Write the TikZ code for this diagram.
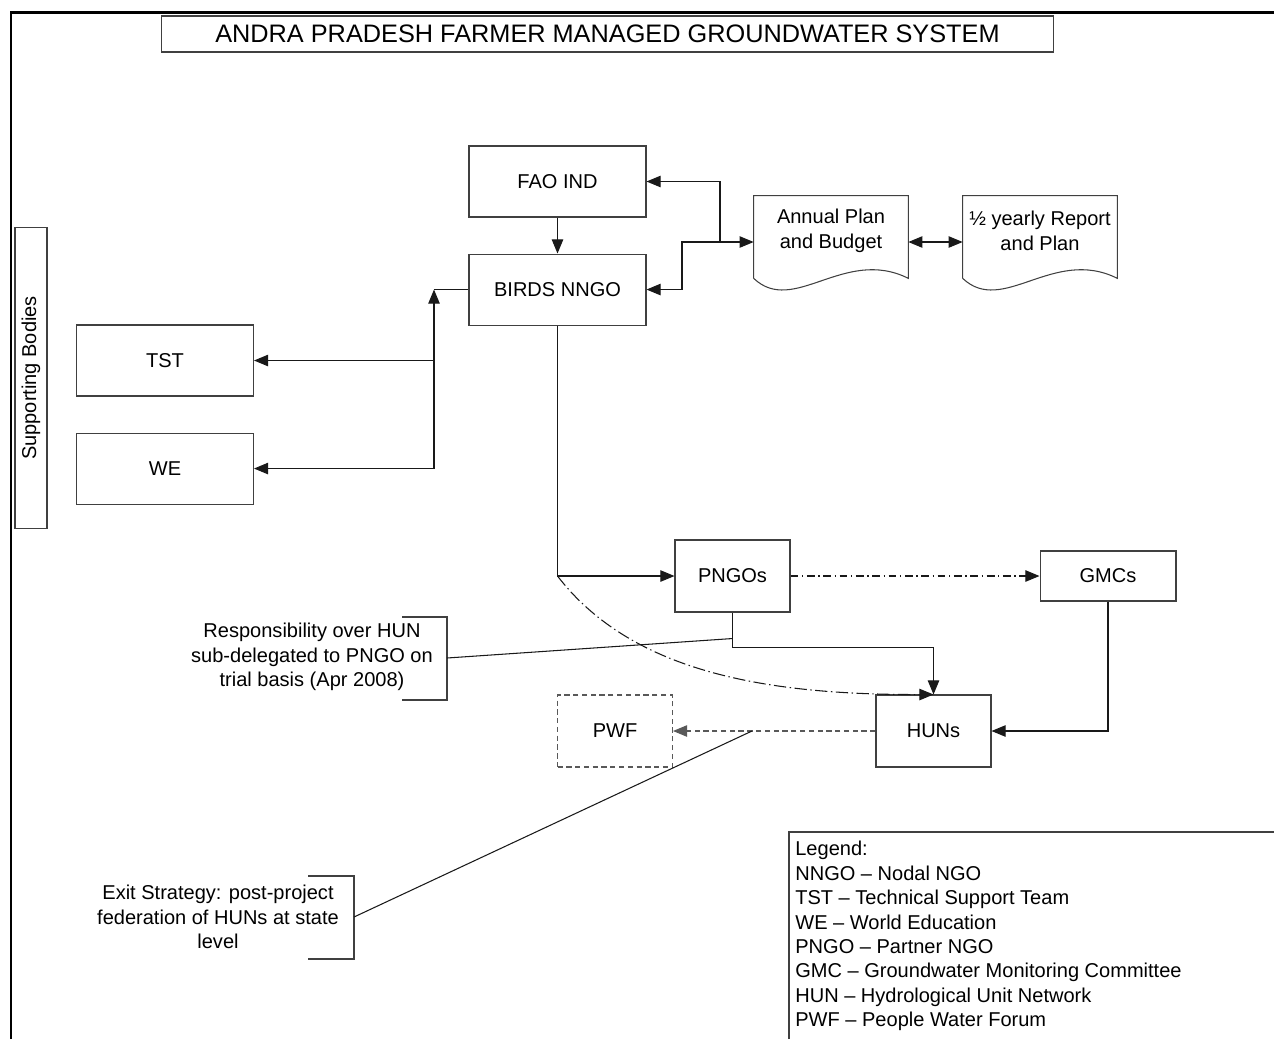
\documentclass[tikz,border=0pt]{standalone}
\usepackage{fontspec}
\setmainfont{Liberation Sans}
\usetikzlibrary{arrows.meta,calc,positioning}

\newcommand\fs{\fontsize{11.4}{13.9}\selectfont}
% document shape: straight top and sides, wavy bottom
\newcommand\docoutline[1]{%
  \draw[boxline] ($(#1.south west)+(0,12)$) -- (#1.north west) -- (#1.north east) -- ($(#1.south east)+(0,12)$)
    .. controls ($(#1.south east)+(-64,-20)$) and ($(#1.south west)+(40,50)$) .. ($(#1.south west)+(0,12)$);}

\begin{document}
\begin{tikzpicture}[x=0.02cm, y=-0.02cm,
    boxline/.style={draw=black!75, line width=0.6pt},
    box/.style={boxline, font=\fs, minimum width=3.54cm, minimum height=1.42cm},
    small/.style={box, minimum width=2.3cm, minimum height=1.44cm},
    doc/.style={font=\fs, align=center, minimum width=3.08cm, minimum height=1.4cm},
    note/.style={font=\fs, align=center, inner sep=0pt},
    conn/.style={draw=black!90, line width=0.6pt},
    dashdot/.style={conn, dash pattern=on 4.5pt off 2pt on 0.8pt off 2pt},
    longdash/.style={conn, dash pattern=on 7pt off 2pt on 0.8pt off 2pt},
    dashline/.style={draw=black!65, line width=0.6pt, dash pattern=on 3pt off 2pt},
    >={Triangle[length=8pt,width=6.5pt]}]
  \useasboundingbox (0,0) rectangle (1274,1039);
  \draw[line width=1.7pt] (11,1039) -- (11,12) -- (1274,12);

  \node[boxline, minimum width=17.86cm, minimum height=0.72cm, font=\fontsize{14.4}{16}\selectfont] (title) at (607.5,34) {ANDRA PRADESH FARMER MANAGED GROUNDWATER SYSTEM};

  \node[box] (fao) at (557.5,181.5) {FAO IND};
  \node[box, below=0.72cm of fao] (birds) {BIRDS NNGO};
  \node[doc] (annual) at (831,231) {Annual Plan\\and Budget};
  \docoutline{annual}
  \node[doc] (half) at (1040,231) {½ yearly Report\\and Plan};
  \docoutline{half}

  \node[boxline, rotate=90, minimum width=6.02cm, minimum height=0.64cm, font=\fs] (sup) at (31,378) {Supporting Bodies};
  \node[box] (tst) at (165,360.5) {TST};
  \node[box, below=0.72cm of tst] (we) {WE};

  \node[small] (pngo) at (732.5,576) {PNGOs};
  \node[box, minimum width=2.72cm, minimum height=1cm] (gmc) at (1108,576) {GMCs};
  \node[small] (huns) at (933.5,731) {HUNs};
  \node[small, dashline] (pwf) at (615,731) {PWF};

  \node[note] (resp) at (312,657) {Responsibility over HUN\\sub-delegated to PNGO on\\trial basis (Apr 2008)};
  \node[note] (exit) at (218,917) {Exit Strategy: post-project\\federation of HUNs at state\\level};
  \node[note, anchor=north west, align=left] (legend) at (795,841) {Legend:\\NNGO -- Nodal NGO\\TST -- Technical Support Team\\WE -- World Education\\PNGO -- Partner NGO\\GMC -- Groundwater Monitoring Committee\\HUN -- Hydrological Unit Network\\PWF -- People Water Forum};
  \draw[boxline] (789,1039) -- (789,832) -- (1274,832);

  % plans and reports
  \coordinate (jn) at (720,242);
  \draw[conn,->] (jn) |- (fao.east);
  \draw[conn,->] (jn) -- (jn -| annual.west);
  \draw[conn,->] (jn) -- ++(-38,0) |- (birds.east);
  \draw[conn,<->] (annual.east |- jn) -- (half.west |- jn);
  \draw[conn,->] (fao) -- (birds);

  % supporting bodies
  \coordinate (bend) at (birds.west -| 434,0);
  \draw[conn] (birds.west) -- (bend);
  \draw[conn,->] (bend |- we.east) -- (bend);
  \draw[conn,->] (bend |- tst.east) -- (tst.east);
  \draw[conn,->] (bend |- we.east) -- (we.east);

  % field level
  \draw[conn,->] (birds.south) |- (pngo.west);
  \draw[dashdot,->] (pngo) -- (gmc);
  \draw[conn,->] (pngo.south) -- ++(0,35) -| (huns.north);
  \draw[conn,->] (gmc.south) |- (huns.east);
  \draw[longdash,->] (birds.south |- pngo.west) .. controls (630,670) and (760,695) .. (huns.north);
  \draw[dashline,->] (huns.west) -- (pwf.east);

  % callouts
  \draw[boxline] (402,617) -| (447,700) -- (402,700);
  \coordinate (brk1) at (447,658);
  \coordinate (onpn) at ($(pngo.south)+(0,26)$);
  \draw[conn] (brk1) -- (onpn);
  \draw[boxline] (308,876) -| (354,959) -- (308,959);
  \coordinate (brk2) at (354,917);
  \coordinate (onpwf) at ($(pwf.east)!0.39!(huns.west)$);
  \draw[conn] (brk2) -- (onpwf);
\end{tikzpicture}
\end{document}
